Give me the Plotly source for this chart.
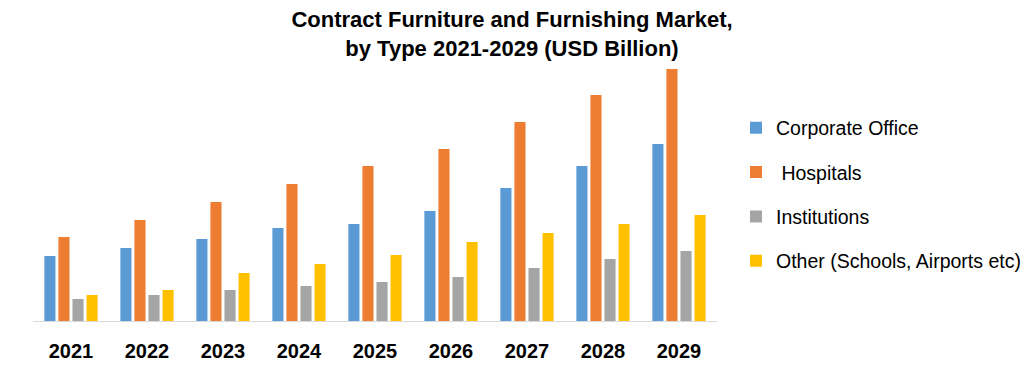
import plotly.graph_objects as go

years = ["2021", "2022", "2023", "2024", "2025", "2026", "2027", "2028", "2029"]
corporate_office = [6.5, 7.3, 8.2, 9.3, 9.7, 11.0, 13.3, 15.5, 17.7]
hospitals = [8.4, 10.1, 11.9, 13.7, 15.5, 17.2, 19.9, 22.6, 25.2]
institutions = [2.2, 2.6, 3.1, 3.5, 3.9, 4.4, 5.3, 6.2, 7.0]
other = [2.6, 3.1, 4.8, 5.7, 6.6, 7.9, 8.8, 9.7, 10.6]

series = [
    ("Corporate Office", corporate_office, "#5B9BD5"),
    (" Hospitals", hospitals, "#ED7D31"),
    ("Institutions", institutions, "#A5A5A5"),
    ("Other (Schools, Airports etc)", other, "#FFC000"),
]

fig = go.Figure()
for i, (name, vals, color) in enumerate(series):
    fig.add_trace(go.Bar(x=years, y=vals, name=name, marker_color=color,
                         marker_line_width=0, legendgroup=f"g{i}"))

fig.update_layout(
    width=1032, height=369,
    paper_bgcolor="white", plot_bgcolor="white",
    margin=dict(l=33, r=315, t=60, b=48, autoexpand=False),
    barmode="group", bargap=0.26, bargroupgap=0.21,
    title=dict(text="<b>Contract Furniture and Furnishing Market,<br>by Type 2021-2029 (USD Billion)</b>",
               x=512 / 1032, xanchor="center", y=1 - 27 / 369, yanchor="middle",
               font=dict(family="Liberation Sans", size=22, color="#000000")),
    font=dict(family="Liberation Sans", color="#000000"),
    legend=dict(x=(736 - 33) / 684, xanchor="left", y=1 - (108.5 - 60) / 261, yanchor="top",
                font=dict(size=19.5, color="#000000"), tracegroupgap=16,
                itemwidth=30),
    showlegend=True,
)
fig.update_xaxes(showline=True, linecolor="#D9D9D9", linewidth=1, ticks="",
                 tickfont=dict(size=20, family="Liberation Sans", color="#000000"),
                 ticklabelstandoff=12, automargin=False)
fig.update_yaxes(visible=False, range=[0, 26.1], showgrid=False, zeroline=False,
                 automargin=False)

# bold tick labels
fig.update_xaxes(tickvals=years, ticktext=[f"<b>{y}</b>" for y in years])

fig.write_html("out.html", config={"displayModeBar": False},
               post_script="document.body.style.margin='0';")
